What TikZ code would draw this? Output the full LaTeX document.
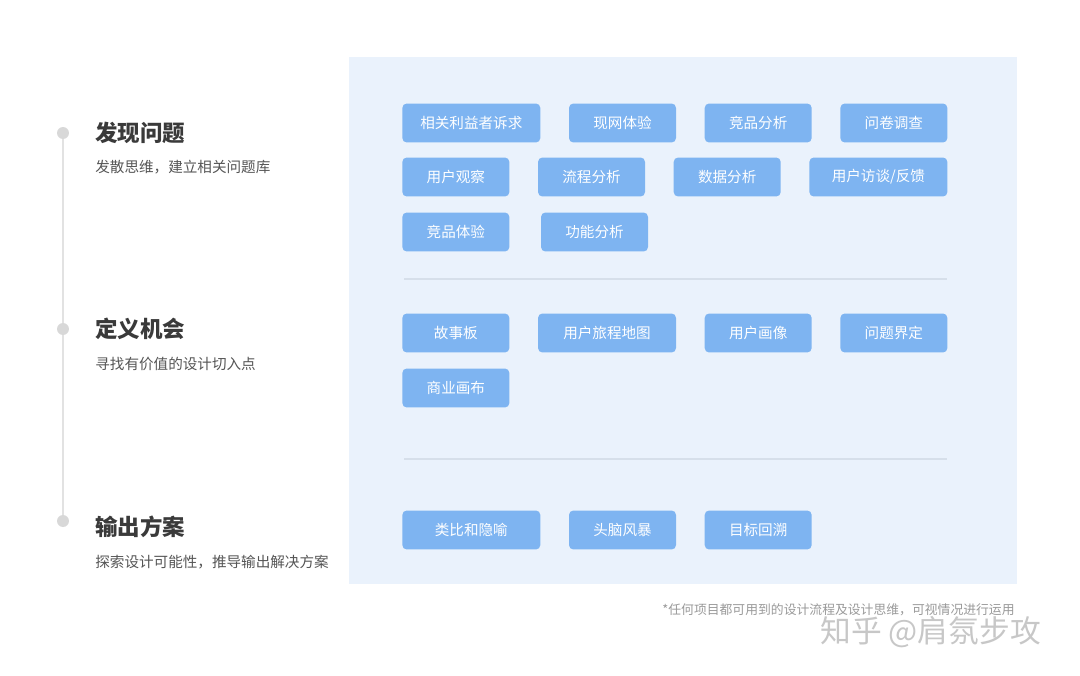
\documentclass[tikz,border=0pt]{standalone}
\usepackage{fontspec}
\setmainfont{Noto Sans CJK SC}
\usetikzlibrary{positioning}
\definecolor{panelbg}{HTML}{EAF2FC}
\definecolor{chipblue}{HTML}{7EB4F1}
\definecolor{rulegray}{HTML}{D6DFEA}
\definecolor{railgray}{HTML}{E2E2E2}
\definecolor{dotgray}{HTML}{D8D8D8}
\definecolor{ink}{HTML}{3A3A3A}
\definecolor{muted}{HTML}{555555}
\definecolor{faint}{HTML}{9A9A9A}
\tikzset{
  chip/.style      = {rectangle, fill=chipblue, rounded corners=2.5pt, minimum height=7.8mm,
                      minimum width=21.4mm, inner sep=0pt, text=white,
                      font=\fontsize{8.3pt}{10pt}\selectfont},
  wide/.style      = {minimum width=27.6mm},
  phase/.style     = {anchor=west, inner sep=0pt, text=ink, font=\fontsize{12.8pt}{15pt}\selectfont\bfseries},
  phasenote/.style = {anchor=west, inner sep=0pt, text=muted, font=\fontsize{8.3pt}{10pt}\selectfont},
  raildot/.style   = {circle, fill=dotgray, minimum size=2.4mm, inner sep=0pt},
  divider/.style   = {draw=rulegray, line width=0.7pt}
}
\begin{document}
\begin{tikzpicture}[x=0.02cm, y=-0.02cm, node distance=5.6mm]
  \useasboundingbox[fill=white] (0,0) rectangle (1080,676);
  \fill[panelbg] (349,57) rectangle (1017,584);

  % timeline on the left
  \node[raildot] (d1) at (63,133) {};
  \node[raildot] (d2) at (63,329) {};
  \node[raildot] (d3) at (63,521) {};
  \draw[railgray, line width=0.8pt] (d1) -- (d2);
  \draw[railgray, line width=0.8pt] (d2) -- (d3);

  \node[phase] (p1) at (95,133) {发现问题};
  \node[phasenote] (n1) at (95,167) {发散思维，建立相关问题库};
  \node[phase] (p2) at (95,329) {定义机会};
  \node[phasenote] (n2) at (95,364) {寻找有价值的设计切入点};
  \node[phase] (p3) at (95,527) {输出方案};
  \node[phasenote] (n3) at (95,562) {探索设计可能性，推导输出解决方案};

  % methods for each phase
  \node[chip, wide, anchor=west] (a1) at (402,123) {相关利益者诉求};
  \node[chip, right=of a1] (a2) {现网体验};
  \node[chip, right=of a2] (a3) {竞品分析};
  \node[chip, right=of a3] (a4) {问卷调查};
  \node[chip, anchor=west] (b1) at (402,177) {用户观察};
  \node[chip, right=of b1] (b2) {流程分析};
  \node[chip, right=of b2] (b3) {数据分析};
  \node[chip, wide, right=of b3] (b4) {用户访谈/反馈};
  \node[chip, anchor=west] (c1) at (402,232) {竞品体验};
  \node[chip, right=6.2mm of c1] (c2) {功能分析};

  \coordinate (r1a) at (404,279);
  \coordinate (r1b) at (947,279);
  \draw[divider] (r1a) -- (r1b);

  \node[chip, anchor=west] (e1) at (402,333) {故事板};
  \node[chip, wide, right=of e1] (e2) {用户旅程地图};
  \node[chip, right=of e2] (e3) {用户画像};
  \node[chip, right=of e3] (e4) {问题界定};
  \node[chip, anchor=west] (f1) at (402,388) {商业画布};

  \coordinate (r2a) at (404,459);
  \coordinate (r2b) at (947,459);
  \draw[divider] (r2a) -- (r2b);

  \node[chip, wide, anchor=west] (g1) at (402,530) {类比和隐喻};
  \node[chip, right=of g1] (g2) {头脑风暴};
  \node[chip, right=of g2] (g3) {目标回溯};

  \node[anchor=east, inner sep=0pt, text=faint, font=\fontsize{7.3pt}{9pt}\selectfont] (foot) at (1015,610)
    {*任何项目都可用到的设计流程及设计思维，可视情况进行运用};
  \node[anchor=west, inner sep=0pt, text=black!22, font=\fontsize{17.5pt}{20pt}\selectfont] (mark) at (820,632)
    {知乎 @肩氛步攻};
\end{tikzpicture}
\end{document}
